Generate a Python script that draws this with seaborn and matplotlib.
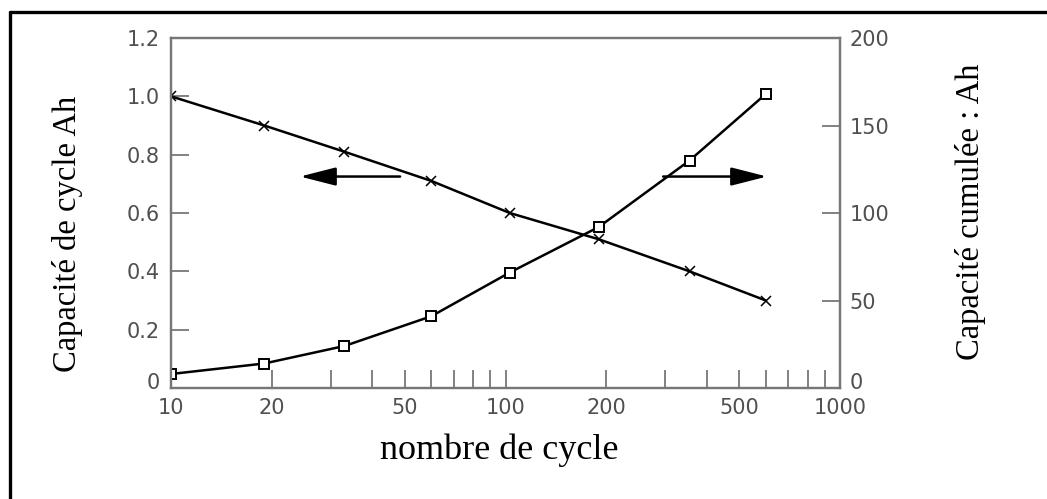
import matplotlib
matplotlib.use("Agg")
import matplotlib.pyplot as plt
import matplotlib.transforms as mtransforms
from matplotlib.lines import Line2D
import seaborn as sns
import pandas as pd

# ---- data ----
cycles = [10, 19, 33, 60, 103, 190, 355, 600]
cap_cycle_ah = [1.00, 0.90, 0.81, 0.71, 0.60, 0.51, 0.40, 0.30]
cap_cumulee_ah = [8, 14, 24, 41, 66, 92, 130, 168]

x_major_ticks = [10, 20, 50, 100, 200, 500, 1000]
x_major_labels = ["10", "20", "50", "100", "200", "500", "1000"]
x_minor_ticks = [30, 40, 60, 70, 80, 90, 300, 400, 600, 700, 800, 900]
left_ticks = [0, 0.2, 0.4, 0.6, 0.8, 1.0, 1.2]
left_labels = ["0", "0.2", "0.4", "0.6", "0.8", "1.0", "1.2"]
right_ticks = [0, 50, 100, 150, 200]
right_labels = ["0", "50", "100", "150", "200"]

xlabel = "nombre de cycle"
ylabel_left = "Capacité de cycle Ah"
ylabel_right = "Capacité cumulée : Ah"

df = pd.DataFrame({"cycles": cycles, "cycle": cap_cycle_ah, "cumul": cap_cumulee_ah})

sns.set_theme(style="white")
plt.rcParams["font.family"] = ["DejaVu Sans"]

W, H = 1047, 499
fig = plt.figure(figsize=(W / 100, H / 100), dpi=100)
ax_l, ax_r, ax_b, ax_t = 171, 840, 388, 38
ax = fig.add_axes([ax_l / W, 1 - ax_b / H, (ax_r - ax_l) / W, (ax_b - ax_t) / H])
ax.set_xscale("log")

sns.lineplot(data=df, x="cycles", y="cycle", ax=ax, color="black", lw=1.8,
             marker="x", markersize=7, markeredgewidth=1.1, markeredgecolor="black")

ax2 = ax.twinx()
sns.lineplot(data=df, x="cycles", y="cumul", ax=ax2, color="black", lw=1.8,
             marker="s", markersize=7, markerfacecolor="white",
             markeredgecolor="black", markeredgewidth=1.4)

ax.set_xlim(10, 1000)
ax.set_ylim(0, 1.2)
ax2.set_ylim(0, 200)

tick_color = "#505050"
spine_color = "#777777"
tick_font = dict(size=15, color=tick_color)

ax.set_xticks(x_major_ticks, x_major_labels, **tick_font)
ax.set_xticks(x_minor_ticks, minor=True)
ax.set_xticklabels([], minor=True)
ax.set_yticks(left_ticks, left_labels, **tick_font)
ax2.set_yticks(right_ticks, right_labels, **tick_font)

for a in (ax, ax2):
    for s in a.spines.values():
        s.set_color(spine_color)
        s.set_linewidth(1.6)
        s.set_visible(True)
    a.grid(False)

ax.tick_params(axis="x", which="both", direction="in", length=13, width=1.3,
               color=spine_color, top=False, bottom=True, pad=7)
ax.tick_params(axis="y", which="both", direction="in", length=13, width=1.3,
               color=spine_color, left=True, right=False, pad=8)
ax2.tick_params(axis="y", which="both", direction="in", length=13, width=1.3,
                color=spine_color, left=False, right=True, pad=7)

# the "0" labels sit a little above the bottom axis line in the reference
off = mtransforms.ScaledTranslation(0, 7 / 100, fig.dpi_scale_trans)
for lab in (ax.get_yticklabels()[0], ax2.get_yticklabels()[0]):
    lab.set_transform(lab.get_transform() + off)

serif = ["Liberation Serif", "DejaVu Serif"]
ax.set_xlabel(xlabel, family=serif, size=26, color="black", va="center")
ax.xaxis.set_label_coords((499 - ax_l) / (ax_r - ax_l), (ax_b - 450) / (ax_b - ax_t))
ax.set_ylabel(ylabel_left, family=serif, size=23.5, color="black", va="center", rotation=90)
ax.yaxis.set_label_coords((68 - ax_l) / (ax_r - ax_l), (ax_b - 234) / (ax_b - ax_t))
ax2.set_ylabel(ylabel_right, family=serif, size=23.5, color="black", va="center", rotation=90)
ax2.yaxis.set_label_coords((970 - ax_l) / (ax_r - ax_l), (ax_b - 212) / (ax_b - ax_t))

arrow_style = dict(arrowstyle="-|>,head_length=1.1,head_width=0.28", color="black",
                   lw=1.8, mutation_scale=20, shrinkA=0, shrinkB=0)
ax.annotate("", xy=(24.3, 0.725), xytext=(48.4, 0.725), arrowprops=arrow_style)
ax.annotate("", xy=(605, 0.725), xytext=(296, 0.725), arrowprops=arrow_style)

# outer frame (top and left edges of the original crop)
fig.add_artist(Line2D([10 / W, 1.0], [1 - 12 / H, 1 - 12 / H], color="black", lw=2.4,
                      transform=fig.transFigure))
fig.add_artist(Line2D([10 / W, 10 / W], [1 - 12 / H, 0.0], color="black", lw=2.4,
                      transform=fig.transFigure))

fig.savefig("out.png", dpi=100, facecolor="white")
